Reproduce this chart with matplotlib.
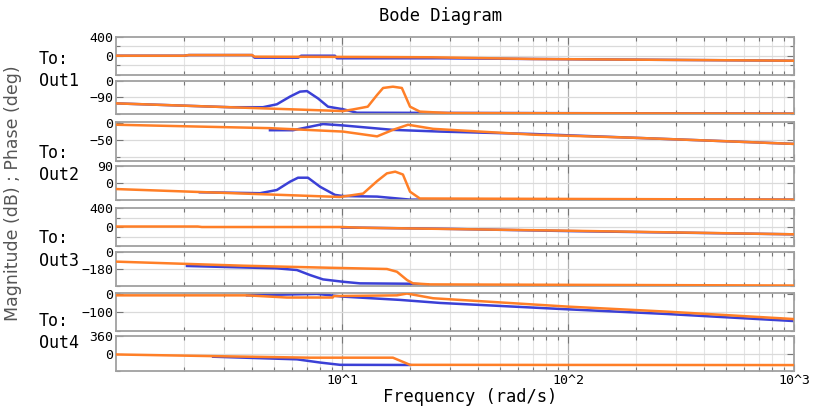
import matplotlib
matplotlib.use("Agg")
import matplotlib.pyplot as plt
from matplotlib.ticker import LogLocator, NullFormatter, FixedLocator, FixedFormatter

# ---- frequency response data (rad/s, dB / deg) ----
out1_mag_f_orange = [1, 2.0, 2.1, 4.0, 4.1, 12, 25, 70, 336, 1000]
out1_mag_orange = [6, 6, 20, 20, -14, -20, -27, -63, -84, -99]
out1_mag_f_blue = [1, 2.0, 2.1, 4.0, 4.1, 6.4, 6.6, 9.3, 9.5, 27, 70, 1000]
out1_mag_blue = [6, 6, 20, 20, -35, -35, 6, 6, -48, -48, -63, -99]

out1_ph_f_orange = [1, 10.1, 11.2, 13.0, 14.3, 15.2, 16.8, 18.4, 20.0, 22.1, 30, 1000]
out1_ph_orange = [-122, -164, -155, -140, -76, -38, -31, -38, -140, -167, -175, -178]
out1_ph_f_blue = [1, 3.19, 4.47, 5.15, 5.89, 6.52, 7.0, 7.83, 8.67, 10.1, 11.65, 1000]
out1_ph_blue = [-122, -143, -143, -127, -85, -58, -55, -95, -140, -154, -173, -178]

out2_mag_f_orange = [1, 4.8, 10.1, 14.3, 16.8, 19.6, 25.3, 70, 194, 537, 1000]
out2_mag_orange = [-6, -16, -26, -40, -21, -6, -18, -35, -44, -55, -62]
out2_mag_f_blue = [4.8, 6.07, 6.72, 8.24, 10.1, 16.8, 27.2, 70, 194, 537, 1000]
out2_mag_blue = [-22, -22, -16, -4, -8, -21, -26, -33, -44, -55, -62]

out2_ph_f_orange = [1, 9.8, 12.4, 14.3, 15.8, 17.2, 18.6, 20.0, 22.1, 1000]
out2_ph_orange = [-32, -74, -56, 10, 51, 60, 45, -46, -82, -88]
out2_ph_f_blue = [2.35, 4.34, 5.15, 5.89, 6.39, 7.07, 8.0, 9.31, 10.1, 14.3, 20.0, 1000]
out2_ph_blue = [-49, -54, -37, 7, 28, 28, -20, -63, -69, -72, -88, -88]

out3_mag_f_orange = [1, 2.3, 2.4, 10, 12, 99, 1000]
out3_mag_orange = [10, 10, 0, 0, -15, -78, -154]
out3_mag_f_blue = [10, 30, 99, 1000]
out3_mag_blue = [-10, -40, -85, -154]

out3_ph_f_orange = [1, 3.65, 8.85, 15.8, 17.5, 19.4, 20.6, 24.5, 1000]
out3_ph_orange = [-102, -145, -167, -180, -209, -297, -332, -343, -355]
out3_ph_f_blue = [2.06, 5.15, 6.32, 7.22, 8.24, 10.1, 12.0, 20.0, 24]
out3_ph_blue = [-148, -173, -191, -244, -290, -315, -332, -336, -345]

out4_mag_f_orange = [1, 3.8, 5.7, 9.1, 9.2, 17.5, 19.4, 25.3, 99, 274, 1000]
out4_mag_orange = [-8, -8, -20, -20, -12, -8, 2, -24, -70, -98, -139]
out4_mag_f_blue = [3.8, 7.75, 10.1, 18.0, 27.2, 99, 274, 1000]
out4_mag_blue = [-8, 0, -15, -33, -50, -85, -111, -150]

out4_ph_f_orange = [1, 2.61, 7.22, 16.8, 20.0, 1000]
out4_ph_orange = [-20, -53, -86, -86, -233, -238]
out4_ph_f_blue = [2.69, 6.32, 8.0, 9.8, 20.0]
out4_ph_blue = [-66, -120, -186, -233, -236]

output_names = ["Out1", "Out2", "Out3", "Out4"]
freq_ticks = [10, 100, 1000]
freq_tick_labels = ["10^1", "10^2", "10^3"]

# per-panel y ranges, labelled ticks and grid levels
panel_ylims = [(-400, 400), (-180, 0), (-112, 2), (-90, 90),
               (-400, 400), (-360, 0), (-205, 5), (-360, 360)]
panel_yticks = [[0, 400], [-90, 0], [-50, 0], [0, 90],
                [0, 400], [-180, 0], [-100, 0], [0, 360]]
panel_ygrid = [[-200, 0, 200], [-90], [-50, -100], [0],
               [-200, 0, 200], [-180], [-100], [0]]

BLUE = "#3b40d6"
ORANGE = "#ff7f27"
MONO = "DejaVu Sans Mono"

panels = [
    (out1_mag_f_blue, out1_mag_blue, out1_mag_f_orange, out1_mag_orange),
    (out1_ph_f_blue, out1_ph_blue, out1_ph_f_orange, out1_ph_orange),
    (out2_mag_f_blue, out2_mag_blue, out2_mag_f_orange, out2_mag_orange),
    (out2_ph_f_blue, out2_ph_blue, out2_ph_f_orange, out2_ph_orange),
    (out3_mag_f_blue, out3_mag_blue, out3_mag_f_orange, out3_mag_orange),
    (out3_ph_f_blue, out3_ph_blue, out3_ph_f_orange, out3_ph_orange),
    (out4_mag_f_blue, out4_mag_blue, out4_mag_f_orange, out4_mag_orange),
    (out4_ph_f_blue, out4_ph_blue, out4_ph_f_orange, out4_ph_orange),
]

W, H = 813, 411
fig = plt.figure(figsize=(W / 100, H / 100), dpi=100)
fig.patch.set_facecolor("white")

# panel extents in pixels (top, bottom)
panel_px = [(37, 75), (81, 114), (122, 161), (166, 200),
            (208, 246), (252, 286), (293, 331), (336, 371)]
x0, x1 = 116, 794

axes = []
for i, ((top, bot), (fb, vb, fo, vo)) in enumerate(zip(panel_px, panels)):
    ax = fig.add_axes([x0 / W, 1 - bot / H, (x1 - x0) / W, (bot - top) / H])
    ax.set_xscale("log")
    ax.set_xlim(1, 1000)
    ax.set_ylim(*panel_ylims[i])

    # grid
    for d in [1, 10, 100]:
        for m in range(2, 10):
            ax.axvline(d * m, color="#e4e4e4", lw=0.8, zorder=0)
    for d in [10, 100]:
        ax.axvline(d, color="#b0b0b0", lw=0.9, zorder=0)
    for yv in panel_ygrid[i]:
        ax.axhline(yv, color="#dadada", lw=0.9, zorder=0)

    ax.plot(fb, vb, color=BLUE, lw=1.8, zorder=2)
    ax.plot(fo, vo, color=ORANGE, lw=1.8, zorder=3)

    ax.xaxis.set_major_locator(FixedLocator(freq_ticks))
    ax.xaxis.set_minor_locator(LogLocator(base=10, subs=range(2, 10)))
    ax.xaxis.set_minor_formatter(NullFormatter())
    if i == len(panels) - 1:
        ax.xaxis.set_major_formatter(FixedFormatter(freq_tick_labels))
    else:
        ax.xaxis.set_major_formatter(NullFormatter())

    ax.yaxis.set_major_locator(FixedLocator(panel_yticks[i]))
    ax.yaxis.set_minor_locator(FixedLocator(panel_ygrid[i] + list(panel_ylims[i])))
    ax.tick_params(axis="both", which="both", direction="in", top=True, right=True,
                   color="#777777", labelsize=9.5, pad=2)
    ax.tick_params(axis="both", which="major", length=5, width=0.8)
    ax.tick_params(axis="both", which="minor", length=3, width=0.8)
    for lab in ax.get_xticklabels() + ax.get_yticklabels():
        lab.set_fontfamily(MONO)
    for s in ax.spines.values():
        s.set_color("#a0a0a0")
        s.set_linewidth(1.3)
    axes.append(ax)

fig.text(440 / W, 1 - 16 / H, "Bode Diagram", ha="center", va="center",
         fontsize=12.3, family=MONO)
fig.text(470 / W, 1 - 397 / H, "Frequency (rad/s)", ha="center", va="center",
         fontsize=12.3, family=MONO)
fig.text(13 / W, 1 - 193 / H, "Magnitude (dB) ; Phase (deg)", rotation=90,
         ha="center", va="center", fontsize=12.5, color="#555555",
         family="DejaVu Sans")

to_y = [59, 153, 238, 321]
out_y = [81, 175, 261, 343]
for name, ty, oy in zip(output_names, to_y, out_y):
    fig.text(39 / W, 1 - ty / H, "To:", ha="left", va="center", fontsize=12, family=MONO)
    fig.text(39 / W, 1 - oy / H, name, ha="left", va="center", fontsize=12, family=MONO)

fig.savefig("out.png", dpi=100)
